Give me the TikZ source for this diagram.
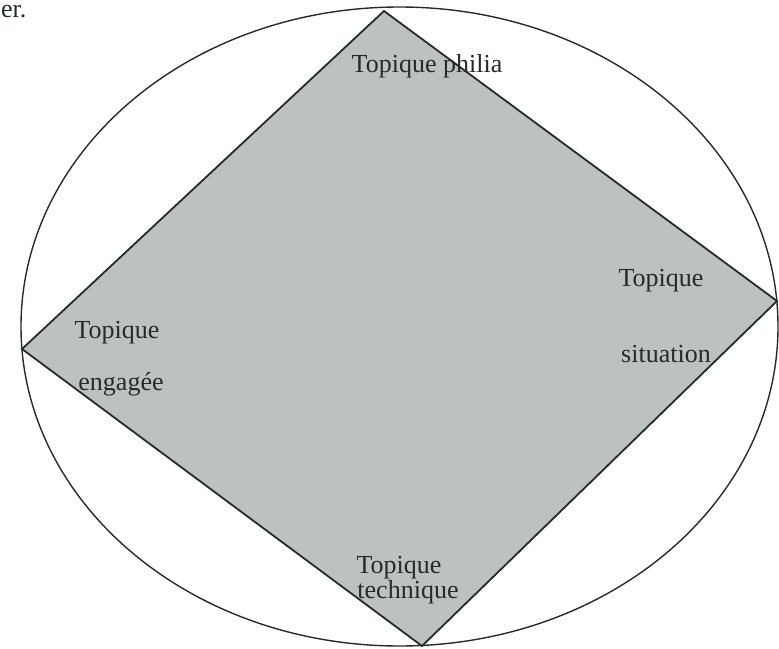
\documentclass[tikz,border=0pt]{standalone}
\usepackage{fontspec}
\setmainfont{Liberation Serif}
\definecolor{diafill}{RGB}{190,194,190}
\definecolor{ink}{RGB}{35,45,38}
\begin{document}
\begin{tikzpicture}[x=1pt,y=-1pt,
  lbl/.style={font=\fontsize{26}{28}\selectfont, text=ink, inner sep=0pt},
  shapeline/.style={draw=ink, line width=1.8pt}]
\useasboundingbox (0,0) rectangle (779,648);
\node[lbl, anchor=base west] (er) at (1,17) {er.};
\draw[shapeline, line width=1.4pt] (399.5,326.5) ellipse [x radius=378.5, y radius=319.5];
\coordinate (T) at (384,11);
\coordinate (R) at (777,301);
\coordinate (B) at (422,646);
\coordinate (L) at (22,349);
\filldraw[shapeline, fill=diafill] (T) -- (R) -- (B) -- (L) -- cycle;
\node[lbl] (philia) at (427,66) {Topique philia};
\node[lbl] (lt) at (117,333) {Topique};
\node[lbl] (le) at (121,384) {engagée};
\node[lbl] (rt) at (661,281) {Topique};
\node[lbl] (rs) at (666,354) {situation};
\node[lbl] (bt) at (399,568) {Topique};
\node[lbl] (bte) at (408,592) {technique};
\end{tikzpicture}
\end{document}
